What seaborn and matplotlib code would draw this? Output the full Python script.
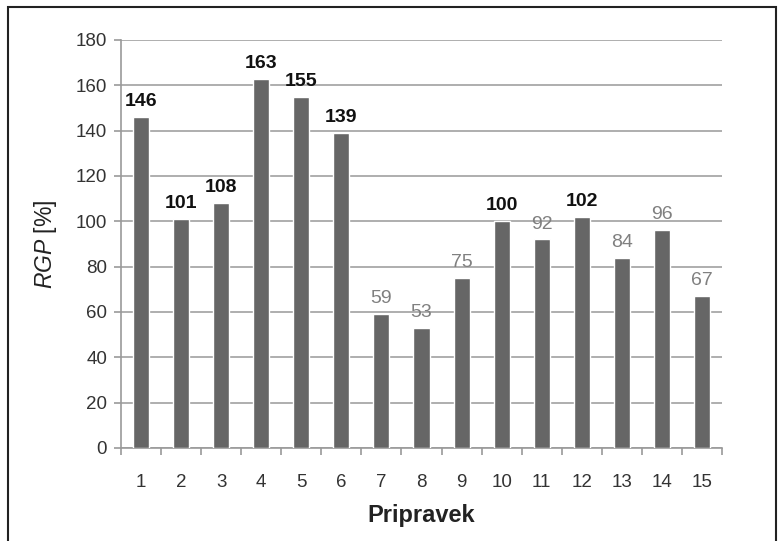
import matplotlib
matplotlib.use("Agg")
import matplotlib.pyplot as plt
import matplotlib.patches as mpatches
import seaborn as sns
import pandas as pd

categories = [str(i) for i in range(1, 16)]
values = [146, 101, 108, 163, 155, 139, 59, 53, 75, 100, 92, 102, 84, 96, 67]
y_ticks = [0, 20, 40, 60, 80, 100, 120, 140, 160, 180]

sns.set_theme(style="white")
plt.rcParams['font.family'] = ['Liberation Sans', 'DejaVu Sans']
plt.rcParams['mathtext.fontset'] = 'custom'
plt.rcParams['mathtext.rm'] = 'Liberation Sans'
plt.rcParams['mathtext.it'] = 'Liberation Sans:italic'

df = pd.DataFrame({"Pripravek": categories, "RGP": values})

fig = plt.figure(figsize=(7.79, 5.41), dpi=100)
ax = fig.add_axes([121/779, 1 - 448/541, (722 - 121)/779, (448 - 40)/541])

sns.barplot(data=df, x="Pripravek", y="RGP", color="#666666", width=0.4,
            saturation=1, ax=ax, zorder=3)

ax.set_ylim(0, 180)
ax.set_xlim(-0.5, len(categories) - 0.5)
ax.set_yticks(y_ticks)
ax.yaxis.grid(True, color="#a8a8a8", linewidth=1.3, zorder=0)
ax.set_axisbelow(True)

for s in ["top", "right"]:
    ax.spines[s].set_visible(False)
ax.spines["left"].set_color("#9a9a9a")
ax.spines["bottom"].set_color("#9a9a9a")
ax.spines["left"].set_linewidth(1.2)
ax.spines["bottom"].set_linewidth(1.2)

ax.tick_params(axis="y", which="major", left=True, length=5, width=1.2,
               color="#9a9a9a", labelsize=13.5, labelcolor="#333333", pad=5)
ax.tick_params(axis="x", which="major", bottom=False, labelsize=13.5,
               labelcolor="#333333", pad=13)
ax.set_xticks([i - 0.5 for i in range(len(categories) + 1)], minor=True)
ax.tick_params(axis="x", which="minor", bottom=True, length=5, width=1.2,
               color="#9a9a9a")

ax.set_xlabel("Pripravek", fontsize=17, fontweight="bold", color="#222222", labelpad=9)
ax.set_ylabel(r"$\mathit{RGP}$ [%]", fontsize=16.5, color="#222222", labelpad=12)

container = ax.containers[0]
texts = ax.bar_label(container, labels=[str(v) for v in values], padding=5, fontsize=14)
for t, v in zip(texts, values):
    if v >= 100:
        t.set_fontweight("bold")
        t.set_color("#111111")
    else:
        t.set_color("#808080")

rect = mpatches.Rectangle((8/779, -0.02), (776 - 8)/779, (1 - 7/541) + 0.02,
                          transform=fig.transFigure, fill=False,
                          edgecolor="#222222", linewidth=1.5, clip_on=False)
fig.patches.append(rect)

fig.savefig("out.png", dpi=100)
